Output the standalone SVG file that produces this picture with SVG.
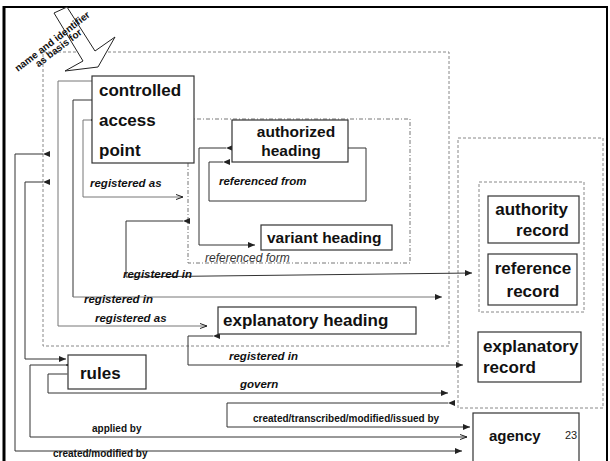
<svg xmlns="http://www.w3.org/2000/svg" width="610" height="461" viewBox="0 0 610 461">
<defs>
<marker id="af" markerUnits="userSpaceOnUse" markerWidth="8" markerHeight="6" refX="7" refY="3" orient="auto"><path d="M0,0 L7,3 L0,6 z" fill="#222"/></marker>
<marker id="ao" markerUnits="userSpaceOnUse" markerWidth="8" markerHeight="6" refX="7" refY="3" orient="auto"><path d="M0,0.5 L7,3 L0,5.5" fill="none" stroke="#222" stroke-width="1"/></marker>
</defs>
<style>
.box{fill:#fff;stroke:#333;stroke-width:1.2}
.bt{font-family:"Liberation Sans",Arial,sans-serif;font-weight:bold;fill:#111}
.lbl{font-family:"Liberation Sans",Arial,sans-serif;font-weight:bold;font-style:italic;font-size:11.5px;fill:#111}
.sl{font-family:"Liberation Sans",Arial,sans-serif;font-weight:bold;font-size:10px;fill:#111}
.dash{fill:none;stroke:#888;stroke-width:1;stroke-dasharray:3,2}
.dd{fill:none;stroke:#777;stroke-width:1;stroke-dasharray:4,2,1,2}
.c{fill:none;stroke:#333;stroke-width:1}
.g{fill:none;stroke:#777;stroke-width:1}
</style>
<rect x="0" y="0" width="610" height="461" fill="#fff"/>
<!-- frame -->
<line x1="3" y1="7" x2="607" y2="7" stroke="#000" stroke-width="2"/>
<line x1="4" y1="6" x2="4" y2="461" stroke="#000" stroke-width="3"/>
<line x1="607" y1="6" x2="607" y2="461" stroke="#000" stroke-width="2"/>

<!-- group containers -->
<g id="outer-area"><rect class="dash" x="43" y="52" width="406" height="294"/></g>
<g id="heading-area"><rect class="dd" x="188" y="119" width="222" height="144"/>
<text x="205" y="262" font-family="'Liberation Sans',Arial,sans-serif" font-style="italic" font-size="12" fill="#333">referenced form</text></g>
<g id="record-area"><rect class="dash" x="458" y="138" width="145" height="270"/></g>
<g id="inner-record-area"><rect class="dash" x="479" y="182" width="105" height="130"/></g>

<!-- block arrow -->
<g id="basis-arrow">
<polygon points="54,13 67,7 95,51 115,37 98,67 65,71 83,61" fill="#fff" stroke="#222" stroke-width="1"/>
<g transform="translate(18,72) rotate(-37.6)" font-family="'Liberation Sans',Arial,sans-serif" font-weight="bold" font-size="10" fill="#111">
<text x="0" y="0">name and identifier</text>
<text x="19" y="9">as basis for</text>
</g>
</g>

<!-- connectors -->
<g id="connectors">
<polyline class="g" points="96,81 58,81 58,326 207,326" marker-start="url(#af)" marker-end="url(#ao)"/>
<polyline class="c" points="96,100 73,100 73,297" marker-start="url(#af)"/>
<line class="g" x1="73" y1="297" x2="442" y2="297" marker-end="url(#af)"/>
<polyline class="g" points="91,120 83,120 83,197 183,197" marker-start="url(#ao)" marker-end="url(#ao)"/>
<polyline class="c" points="183,221 126,221 126,277 472,273" marker-start="url(#af)" marker-end="url(#af)"/>
<polyline class="c" points="226,148 199,148 199,245 255,245" marker-start="url(#af)" marker-end="url(#af)"/>
<polyline class="c" points="223,162 209,162 209,201 366,201 366,148 340,148" marker-start="url(#af)" marker-end="url(#af)"/>
<polyline class="c" points="213,336 188,336 188,365 463,365" marker-start="url(#af)" marker-end="url(#af)"/>
<polyline class="c" points="43,154 15,154 15,451 462,451" marker-start="url(#af)" marker-end="url(#af)"/>
<polyline class="c" points="43,182 25,182 25,359 66,359" marker-start="url(#af)" marker-end="url(#af)"/>
<polyline class="c" points="66,365 30,365 30,437 467,437" marker-start="url(#ao)" marker-end="url(#ao)"/>
<polyline class="c" points="67,374 48,374 48,393 448,393" marker-start="url(#af)" marker-end="url(#af)"/>
<polyline class="c" points="448,403 227,403 227,427 470,427" marker-start="url(#af)" marker-end="url(#af)"/>
</g>

<!-- connector labels -->
<g id="labels">
<text class="lbl" x="90" y="187">registered as</text>
<text class="lbl" x="219" y="185">referenced from</text>
<text class="lbl" x="123" y="278">registered in</text>
<text class="lbl" x="84" y="303">registered in</text>
<text class="lbl" x="95" y="322">registered as</text>
<text class="lbl" x="229" y="360">registered in</text>
<text class="lbl" x="240" y="388" font-size="10">govern</text>
<text class="sl" x="253" y="422">created/transcribed/modified/issued by</text>
<text class="sl" x="92" y="432" font-size="9.5">applied by</text>
<text class="sl" x="53" y="457">created/modified by</text>
</g>

<!-- nodes -->
<g id="controlled-access-point">
<rect class="box" x="92" y="76" width="102" height="87"/>
<text class="bt" font-size="17" x="99" y="96">controlled</text>
<text class="bt" font-size="17" x="99" y="126">access</text>
<text class="bt" font-size="17" x="99" y="156">point</text>
</g>
<g id="authorized-heading">
<rect class="box" x="232" y="120" width="116" height="42"/>
<text class="bt" font-size="15.5" x="296" y="137" text-anchor="middle">authorized</text>
<text class="bt" font-size="15.5" x="291" y="156" text-anchor="middle">heading</text>
</g>
<g id="variant-heading">
<rect class="box" x="261" y="225" width="131" height="25"/>
<text class="bt" font-size="15.5" x="267" y="243">variant heading</text>
</g>
<g id="explanatory-heading">
<rect class="box" x="218" y="307" width="198" height="27"/>
<text class="bt" font-size="17" x="223" y="326">explanatory heading</text>
</g>
<g id="rules">
<rect class="box" x="68" y="355" width="78" height="34"/>
<text class="bt" font-size="17" x="80" y="379">rules</text>
</g>
<g id="authority-record">
<rect class="box" x="488" y="196" width="91" height="47"/>
<text class="bt" font-size="17" x="568" y="215" text-anchor="end">authority</text>
<text class="bt" font-size="17" x="569" y="236" text-anchor="end">record</text>
</g>
<g id="reference-record">
<rect class="box" x="488" y="254" width="89" height="51"/>
<text class="bt" font-size="17" x="533" y="274" text-anchor="middle">reference</text>
<text class="bt" font-size="17" x="533" y="297" text-anchor="middle">record</text>
</g>
<g id="explanatory-record">
<rect class="box" x="478" y="332" width="103" height="50"/>
<text class="bt" font-size="17" x="483" y="352">explanatory</text>
<text class="bt" font-size="17" x="483" y="373">record</text>
</g>
<g id="agency">
<rect class="box" x="473" y="413" width="106" height="50"/>
<text class="bt" font-size="15" x="489" y="441">agency</text>
<text x="565" y="439" font-family="'Liberation Sans',Arial,sans-serif" font-size="11" fill="#222">23</text>
</g>
</svg>
